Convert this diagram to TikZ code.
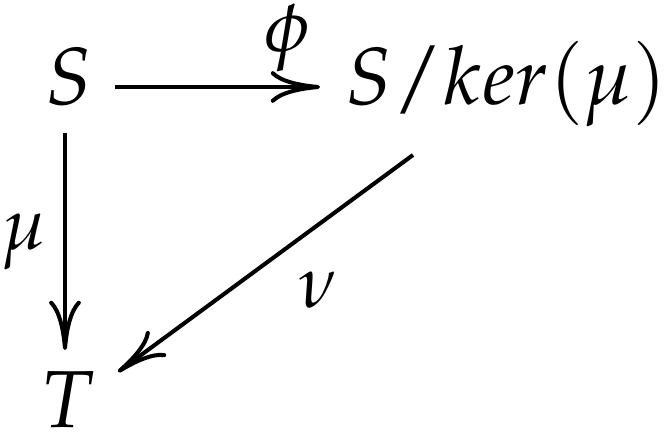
\documentclass[tikz,border=0pt]{standalone}
\usepackage{mathpazo}
\usetikzlibrary{arrows.meta}
\tikzset{
  obj/.style={inner sep=0pt, font=\fontsize{23}{27}\selectfont},
  lbl/.style={inner sep=0pt, font=\fontsize{21}{25}\selectfont},
  arr/.style={line width=1.15pt, -{To[length=14pt,width=9pt]}},
}
\begin{document}
\begin{tikzpicture}[x=0.01cm,y=-0.01cm]
\useasboundingbox (0,0) rectangle (669,434);
\node[obj, anchor=base] (S) at (69,105) {$S$};
\node[obj, anchor=base west] (Q) at (345,105) {$S/ker(\mu)$};
\node[obj, anchor=base] (T) at (68,428) {$T$};
\coordinate (a1) at (115,87);
\coordinate (a2) at (320,87);
\draw[arr] (a1) -- (a2);
\coordinate (b1) at (65,133);
\coordinate (b2) at (65,350);
\draw[arr] (b1) -- (b2);
\coordinate (c1) at (413,155);
\coordinate (c2) at (118,372);
\draw[arr] (c1) -- (c2);
\node[lbl] (phi) at (287,38) {$\phi$};
\node[lbl] (mu) at (24,242) {$\mu$};
\node[lbl] (nu) at (318,290) {$\nu$};
\end{tikzpicture}
\end{document}
